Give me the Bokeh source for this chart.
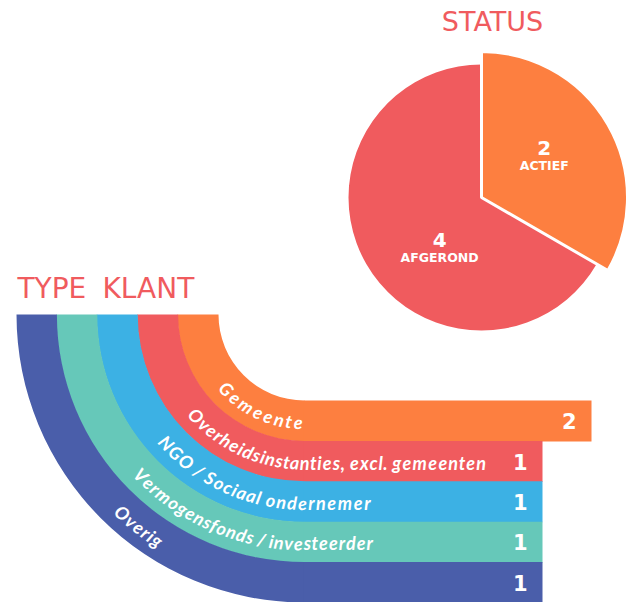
import math
from bokeh.plotting import figure
from bokeh.models import Range1d, ColumnDataSource
from bokeh.core.properties import value
from bokeh.embed import file_html
from bokeh.resources import INLINE

# ---------------- data ----------------
status_labels = ["ACTIEF", "AFGEROND"]
status_values = [2, 4]
status_colors = ["#FD7F40", "#F05B5E"]

klant_labels = ["Gemeente",
                "Overheidsinstanties, excl. gemeenten",
                "NGO / Sociaal ondernemer",
                "Vermogensfonds / investeerder",
                "Overig"]
klant_values = [2, 1, 1, 1, 1]
klant_colors = ["#FD7F40", "#F05B5E", "#3CB1E4", "#66C8B9", "#4A5EAA"]

TITLE_COLOR = "#F05B5E"
BL = 0.33   # baseline correction (em) for the svg text placement


def up(y, fs):
    return y + BL * fs


# ---------------- figure ----------------
W, H = 631, 602
p = figure(width=W, height=H, x_range=Range1d(0, W), y_range=Range1d(-H, 0),
           output_backend="svg", toolbar_location=None,
           x_axis_location=None, y_axis_location=None, min_border=0)
p.grid.visible = False
p.outline_line_color = None
p.background_fill_color = "white"
p.border_fill_color = "white"

# ---------------- TYPE KLANT ----------------
cx, cy = 304, -314
r0, band = 86, 40.4
val_zero, val_unit = 493, 49      # horizontal scale for bar ends
start_deg = [220.5, 220.5, 221.0, 223.0, 226.0]
tracking = [2.0, 0.6, 0.95, 0.45, 0.7]

# approximate Lato Bold advance widths (em)
W_TAB = {' ': .20, '.': .22, ',': .22, '/': .39,
         'a': .51, 'b': .56, 'c': .46, 'd': .56, 'e': .53, 'f': .34, 'g': .51, 'h': .56,
         'i': .25, 'j': .25, 'k': .52, 'l': .25, 'm': .84, 'n': .56, 'o': .56, 'p': .56,
         'q': .56, 'r': .38, 's': .43, 't': .36, 'u': .56, 'v': .52, 'w': .78, 'x': .51,
         'y': .52, 'z': .46, 'G': .70, 'N': .74, 'O': .78, 'S': .53, 'V': .68}
FS = 18
VFS = 21

ch_x, ch_y, ch_a, ch_t = [], [], [], []
for i, (lab, v, col) in enumerate(zip(klant_labels, klant_values, klant_colors)):
    r_in = r0 + i * band
    r_out = r_in + band
    ov = 0.6 if i < len(klant_labels) - 1 else 0
    p.annular_wedge(x=cx, y=cy, inner_radius=r_in, outer_radius=r_out + ov,
                    start_angle=math.pi, end_angle=1.5 * math.pi, direction="anticlock",
                    fill_color=col, line_color=None)
    x_end = val_zero + val_unit * v
    p.quad(left=cx - 0.6, right=x_end, top=cy - r_in, bottom=cy - r_out - ov,
           fill_color=col, line_color=None)
    p.text(x=[x_end - 15], y=[up(cy - (r_in + r_out) / 2 - 7.5, VFS)], text=[str(v)],
           text_align="right", text_baseline="alphabetic", text_color="white",
           text_font=value("DejaVu Sans"), text_font_style="bold",
           text_font_size=value(f"{VFS}px"))

    # curved label, character by character
    r_b = (r_in + r_out) / 2 + 7.5
    r_a = r_b - BL * FS
    th0 = math.radians(start_deg[i])
    L = (1.5 * math.pi - th0) * r_b
    s = 0.0
    for c in lab:
        w = W_TAB.get(c, .52) * FS
        sc = s + w / 2
        if sc < L:
            th = th0 + sc / r_b
            ch_x.append(cx + r_a * math.cos(th))
            ch_y.append(cy + r_a * math.sin(th))
            ch_a.append(th + math.pi / 2)
        else:
            ch_x.append(cx + (sc - L))
            ch_y.append(cy - r_a)
            ch_a.append(0.0)
        ch_t.append(c)
        s += w + tracking[i]

p.text(x="x", y="y", text="t", angle="a",
       source=ColumnDataSource(dict(x=ch_x, y=ch_y, t=ch_t, a=ch_a)),
       text_align="center", text_baseline="alphabetic", text_color="white",
       text_font=value("Lato"), text_font_style="bold italic",
       text_font_size=value(f"{FS}px"))

TFS = 28
p.text(x=[17, 102], y=[up(-297, TFS)] * 2, text=["TYPE", "KLANT"], text_align="left",
       text_baseline="alphabetic", text_color=TITLE_COLOR,
       text_font=value("DejaVu Sans"), text_font_size=value(f"{TFS}px"))

# ---------------- STATUS pie ----------------
pcx, pcy = 481, -197
pie_radius = [146, 133]
label_dist = [74, 68]
label_turn = [2, 22]   # degrees nudge of label anchors
total = sum(status_values)
start = math.pi / 2
slices = []
for lab, v, col, r, d, t in zip(status_labels, status_values, status_colors,
                                pie_radius, label_dist, label_turn):
    sweep = 2 * math.pi * v / total
    slices.append((lab, v, col, r, d, t, start - sweep, start))
    start -= sweep

for lab, v, col, r, d, t, a0, a1 in reversed(slices):
    p.wedge(x=pcx, y=pcy, radius=r, start_angle=a0, end_angle=a1, direction="anticlock",
            fill_color=col, line_color="white", line_width=3 if v == status_values[0] else 0)

NFS, LFS = 20, 12.5
for lab, v, col, r, d, t, a0, a1 in slices:
    mid = (a0 + a1) / 2 + math.radians(t)
    gx = pcx + d * math.cos(mid)
    gy = pcy + d * math.sin(mid)
    p.text(x=[gx], y=[up(gy + 4, NFS)], text=[str(v)], text_align="center",
           text_baseline="alphabetic",
           text_color="white", text_font=value("DejaVu Sans"), text_font_style="bold",
           text_font_size=value(f"{NFS}px"))
    p.text(x=[gx], y=[up(gy - 11, LFS)], text=[lab], text_align="center",
           text_baseline="alphabetic",
           text_color="white", text_font=value("DejaVu Sans"), text_font_style="bold",
           text_font_size=value(f"{LFS}px"))

SFS = 27
p.text(x=[492], y=[up(-30, SFS)], text=["STATUS"], text_align="center",
       text_baseline="alphabetic",
       text_color=TITLE_COLOR, text_font=value("DejaVu Sans"), text_font_size=value(f"{SFS}px"))

open("out.html", "w").write(file_html(p, INLINE))
